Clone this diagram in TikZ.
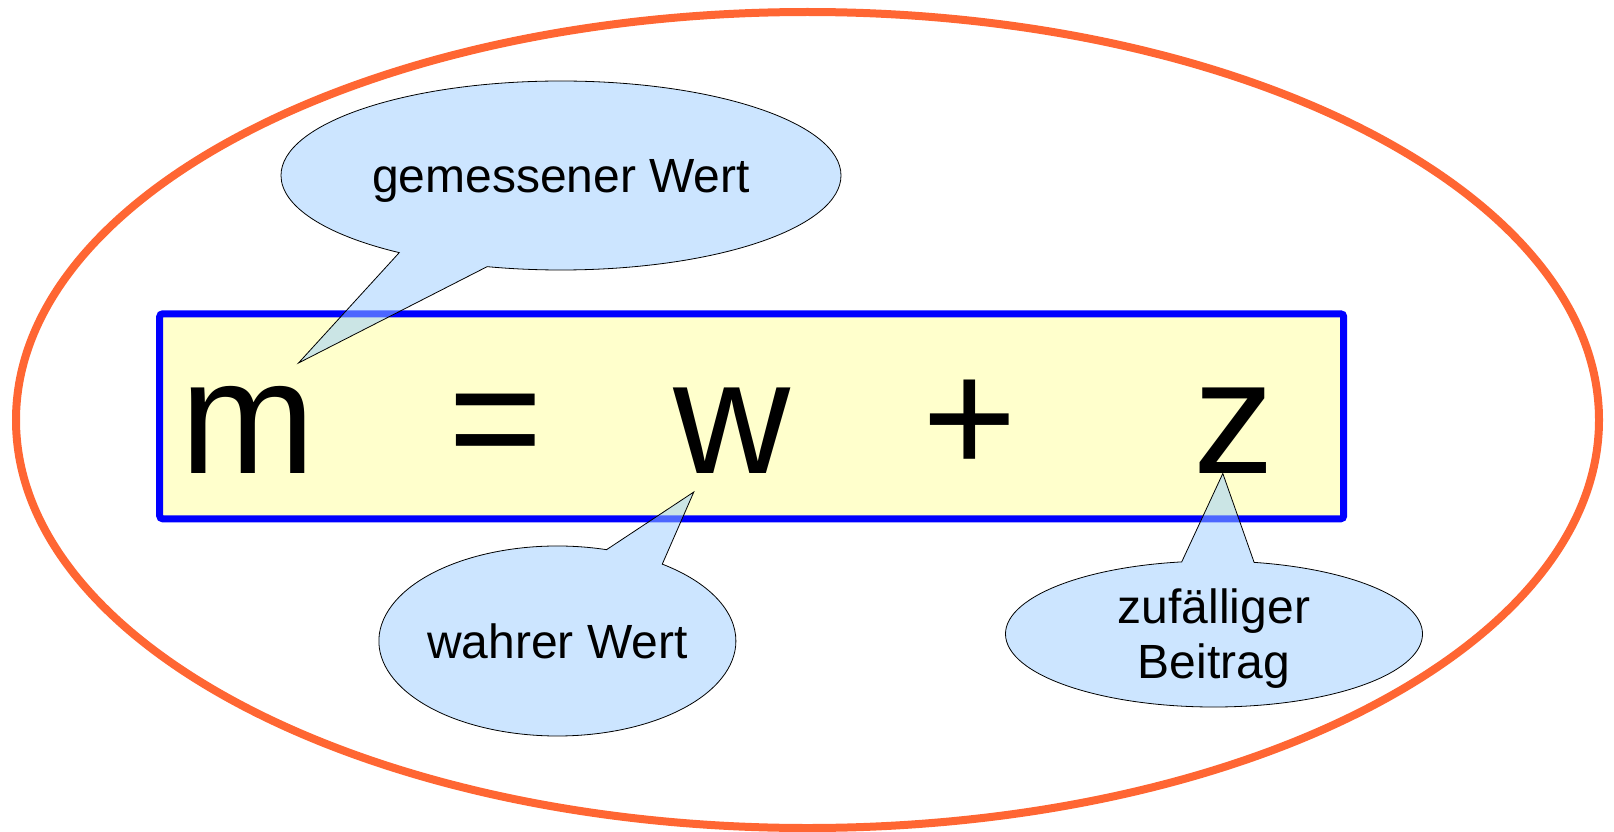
\documentclass[tikz,border=0pt]{standalone}
\usepackage{fontspec}
\setmainfont{Liberation Sans}
\usetikzlibrary{shapes.callouts,positioning}
\definecolor{ringorange}{RGB}{255,102,51}
\definecolor{eqblue}{RGB}{0,0,255}
\definecolor{eqyellow}{RGB}{255,255,204}
\definecolor{bubblue}{RGB}{153,204,255}

\begin{document}
\begin{tikzpicture}[x=1pt, y=-1pt,
  ring/.style={draw=ringorange, line width=8pt},
  eqbox/.style={draw=eqblue, fill=eqyellow, line width=7pt,
                rounded corners=3pt, inner sep=0pt},
  sym/.style={inner sep=0pt, anchor=base,
              font=\fontsize{162}{180}\selectfont},
  bubble/.style={ellipse callout, draw=black, line width=0.8pt,
                 fill=bubblue, fill opacity=0.5, text opacity=1,
                 inner sep=0pt, align=center, callout pointer arc=20,
                 text depth=0pt, font=\fontsize{48}{55}\selectfont}
]
\useasboundingbox (0,0) rectangle (1614,832);

% Outer ring
\draw[ring] (807.5,420) ellipse [x radius=791.5pt, y radius=408pt];

% Equation
\node[eqbox, minimum width=1184pt, minimum height=205pt] (eq) at (751.7,416.3) {};
\node[sym] (m) at (247.5,473.5) {m};
\node[sym] (eqsign) at (495.6,473.5) {=};
\node[sym] (w) at (732.4,473.5) {w};
\node[sym] (plus) at (970,473.5) {+};
\node[sym] (z) at (1234,473.5) {z};

% Bubbles
\coordinate (tipm) at (298.5,363);
\coordinate (tipw) at (693.8,492);
\coordinate (tipz) at (1222.8,473.5);
\node[bubble, minimum width=560pt, minimum height=189pt,
      callout absolute pointer={(tipm)}] (measured) at (561,175.5) {gemessener Wert};
\node[bubble, minimum width=357pt, minimum height=190pt, inner xsep=-5pt,
      callout absolute pointer={(tipw)}] (true) at (557.4,641) {wahrer Wert};
\node[bubble, minimum width=417pt, minimum height=146pt, inner ysep=-3pt,
      callout absolute pointer={(tipz)}] (random) at (1214,634) {zufälliger\\Beitrag};

\end{tikzpicture}
\end{document}
